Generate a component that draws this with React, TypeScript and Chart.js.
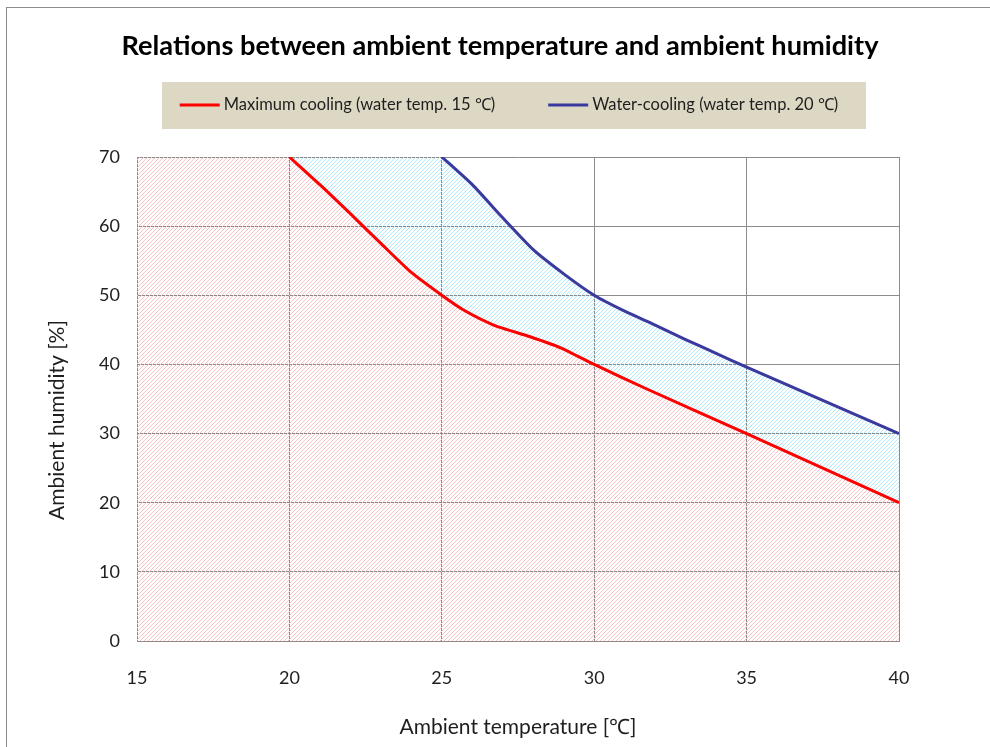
import React, { useEffect, useRef } from 'react';
import { Chart, registerables } from 'chart.js';

Chart.register(...registerables);

// ---- data ----
const chartTitle = 'Relations between ambient temperature and ambient humidity';
const xAxisTitle = 'Ambient temperature [℃]';
const yAxisTitle = 'Ambient humidity [%]';
const seriesNames = ['Maximum cooling (water temp. 15 ℃)', 'Water-cooling (water temp. 20 ℃)'];
const xTicks = [15, 20, 25, 30, 35, 40];
const yTicks = [0, 10, 20, 30, 40, 50, 60, 70];
const maxCoolingTemp = [20, 21, 22, 23, 24, 25, 25.7, 26.7, 27.9, 28.9, 30, 31.8, 35, 40];
const maxCoolingHumidity = [70, 66, 61.8, 57.5, 53.3, 50, 47.9, 45.7, 44, 42.4, 40, 36.3, 30, 20];
const waterCoolingTemp = [25, 26, 27, 28, 29, 30, 31, 32, 33, 34, 35, 40];
const waterCoolingHumidity = [70, 66, 61.2, 56.6, 53.1, 50, 47.7, 45.7, 43.6, 41.6, 39.6, 30];

// ---- style ----
const FONT = 'Lato';
const RED = '#ff0000';
const BLUE = '#3a3a9e';
const GRID = '#8c8c8c';
const TEXT = '#1e1e1e';

// diagonal "/" hatch built as a striped linear gradient along (1,1)
function makeHatch(ctx: CanvasRenderingContext2D, rgb: [number, number, number]) {
  const L = 1800; // covers x + y in [0, L]
  const period = 4;
  const g = ctx.createLinearGradient(0, 0, L / 2, L / 2);
  const on = `rgba(${rgb[0]},${rgb[1]},${rgb[2]},1)`;
  const off = `rgba(${rgb[0]},${rgb[1]},${rgb[2]},0)`;
  for (let s = 0; s + period <= L; s += period) {
    g.addColorStop((s + 0.5) / L, off);
    g.addColorStop((s + 0.5) / L, on);
    g.addColorStop((s + 1.4) / L, on);
    g.addColorStop((s + 1.4) / L, off);
  }
  return g;
}

const decorPlugin = {
  id: 'decor',
  afterDraw(chart: any) {
    const ctx: CanvasRenderingContext2D = chart.ctx;
    ctx.save();
    // outer frame
    ctx.strokeStyle = '#8c8c8c';
    ctx.lineWidth = 1;
    ctx.strokeRect(6.5, 7.5, 1100, 1100);
    // title
    ctx.fillStyle = '#000';
    ctx.font = `bold 27.2px ${FONT}`;
    ctx.textAlign = 'center';
    ctx.textBaseline = 'middle';
    ctx.fillText(chartTitle, 500, 46);
    // y axis title
    ctx.save();
    ctx.translate(57, 420);
    ctx.rotate(-Math.PI / 2);
    ctx.fillStyle = TEXT;
    ctx.font = `21px ${FONT}`;
    ctx.fillText(yAxisTitle, 0, 0);
    ctx.restore();
    // legend
    ctx.fillStyle = '#ddd8c4';
    ctx.fillRect(162, 82, 704, 47);
    ctx.font = `16.5px ${FONT}`;
    const lineLen = 40, gap = 4, itemGap = 53;
    const w0 = ctx.measureText(seriesNames[0]).width;
    const w1 = ctx.measureText(seriesNames[1]).width;
    const total = lineLen + gap + w0 + itemGap + lineLen + gap + w1;
    let x = 509 - total / 2;
    const y = 105;
    const colors = [RED, BLUE];
    ctx.textAlign = 'left';
    [w0, w1].forEach((w, i) => {
      ctx.strokeStyle = colors[i];
      ctx.lineWidth = 3;
      ctx.beginPath();
      ctx.moveTo(x, y);
      ctx.lineTo(x + lineLen, y);
      ctx.stroke();
      ctx.fillStyle = TEXT;
      ctx.fillText(seriesNames[i], x + lineLen + gap, y);
      x += lineLen + gap + w + itemGap;
    });
    ctx.restore();
  },
};

export default function App() {
  const ref = useRef<HTMLCanvasElement>(null);

  useEffect(() => {
    const canvas = ref.current!;
    const ctx = canvas.getContext('2d')!;
    const pinkHatch = makeHatch(ctx, [250, 196, 196]);
    const cyanHatch = makeHatch(ctx, [176, 234, 250]);

    const redPts = maxCoolingTemp.map((t, i) => ({ x: t, y: maxCoolingHumidity[i] }));
    const bluePts = waterCoolingTemp.map((t, i) => ({ x: t, y: waterCoolingHumidity[i] }));
    const corner = { x: xTicks[0], y: yTicks[yTicks.length - 1] };

    const chart = new Chart(canvas, {
      type: 'line',
      data: {
        datasets: [
          { label: seriesNames[0], data: redPts, borderColor: RED, borderWidth: 3, pointRadius: 0, fill: false, tension: 0.2 },
          { label: seriesNames[1], data: bluePts, borderColor: BLUE, borderWidth: 3, pointRadius: 0, fill: false, tension: 0.2 },
          { label: 'fill1', data: [corner, ...redPts], borderWidth: 0, borderColor: 'rgba(0,0,0,0)', backgroundColor: pinkHatch, pointRadius: 0, fill: 'origin', tension: 0.2 },
          { label: 'fill2', data: [corner, ...bluePts], borderWidth: 0, borderColor: 'rgba(0,0,0,0)', backgroundColor: cyanHatch, pointRadius: 0, fill: 2, tension: 0.2 },
        ],
      },
      options: {
        responsive: false,
        animation: false,
        devicePixelRatio: 1,
        layout: { padding: { top: 157, right: 91, left: 0, bottom: 0 } },
        plugins: {
          legend: { display: false },
          title: { display: false },
          tooltip: { enabled: false },
        },
        scales: {
          x: {
            type: 'linear',
            z: 1,
            min: xTicks[0],
            max: xTicks[xTicks.length - 1],
            afterBuildTicks: (s: any) => { s.ticks = xTicks.map((v) => ({ value: v })); },
            afterFit: (s: any) => { s.height = 106; },
            grid: { color: GRID, drawTicks: false, lineWidth: 1 },
            border: { color: GRID },
            ticks: { padding: 26, color: TEXT, font: { family: FONT, size: 18 } },
            title: { display: true, text: xAxisTitle, color: TEXT, font: { family: FONT, size: 21 }, padding: { top: 0, bottom: 7 } },
          },
          y: {
            type: 'linear',
            z: 1,
            min: yTicks[0],
            max: yTicks[yTicks.length - 1],
            afterBuildTicks: (s: any) => { s.ticks = yTicks.map((v) => ({ value: v })); },
            afterFit: (s: any) => { s.width = 137; },
            grid: { color: GRID, drawTicks: false, lineWidth: 1 },
            border: { color: GRID },
            ticks: { padding: 17, color: TEXT, font: { family: FONT, size: 18 } },
            title: { display: false, text: yAxisTitle },
          },
        },
      },
      plugins: [decorPlugin],
    });
    return () => chart.destroy();
  }, []);

  return (
    <div style={{ position: 'fixed', left: 0, top: 0, width: 990, height: 747, background: '#fff', overflow: 'hidden' }}>
      <canvas ref={ref} width={990} height={747} style={{ display: 'block', width: 990, height: 747 }} />
    </div>
  );
}
